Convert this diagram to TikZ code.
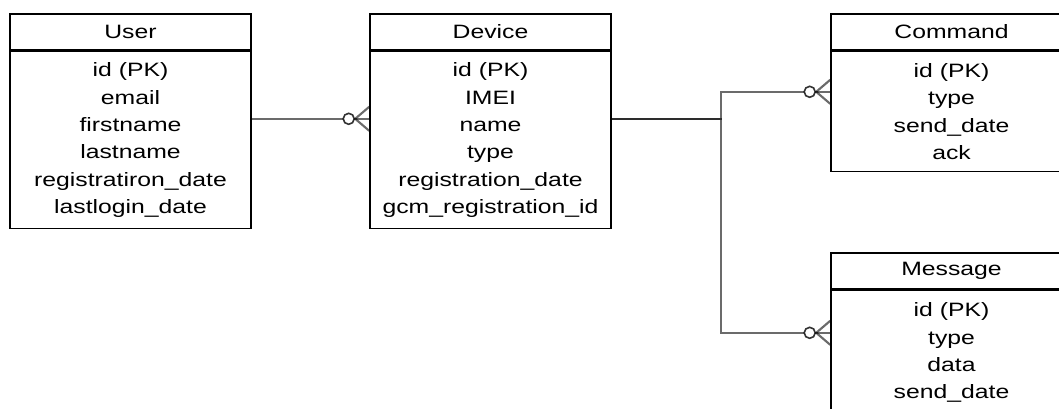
\documentclass[tikz,border=0pt]{standalone}
\usepackage{fontspec}
\setmainfont{Liberation Sans}[FakeStretch=1.28]
\usetikzlibrary{calc,positioning}
\tikzset{
    entity/.style = {
        draw,
        line width=1.2pt,
        minimum width=180.75pt,
        inner sep=0pt,
        font=\fontsize{14.5pt}{20.5pt}\selectfont,
        },
    entity head/.style = {
        entity,
        minimum height=27pt,
        },
    entity body/.style = {
        entity,
        align=center,
        },
    relation/.style = {
        draw=black,
        draw opacity=0.58,
        line width=1.6pt,
        },
    zero many/.pic = {
        \draw[relation] (-14,0) -- (0,-12);
        \draw[relation] (-14,0) -- (0,12);
        \draw[relation, draw opacity=0.8, line width=1.2pt, fill=white] (-20.5,0) circle[radius=5.5];
        },
}
\begin{document}
\begin{tikzpicture}[x=0.75pt,y=-0.75pt]
            \clip (0,0) rectangle (1059,408);

            \node[entity head] (user) at (130.5,32) {User};
            \node[entity body, minimum height=132.75pt, below=0pt of user] (user attrs)
                {id (PK)\\email\\firstname\\lastname\\registratiron\_date\\lastlogin\_date};
            \node[entity head] (device) at (490.5,32) {Device};
            \node[entity body, minimum height=132.75pt, below=0pt of device] (device attrs)
                {id (PK)\\IMEI\\name\\type\\registration\_date\\gcm\_registration\_id};
            \node[entity head] (command) at (951.5,32) {Command};
            \node[entity body, minimum height=90pt, below=0pt of command] (command attrs)
                {id (PK)\\type\\send\_date\\ack};
            \node[entity head] (message) at (951.5,271) {Message};
            \node[entity body, minimum height=93pt, below=0pt of message] (message attrs)
                {id (PK)\\type\\data\\send\_date};

            % user - device
            \draw[relation] ($(user attrs.north east)+(0,68)$) -- ($(device attrs.north west)+(0,68)$);
            \pic at ($(device attrs.north west)+(0,68)$) {zero many};
            % device - command
            \draw[relation] ($(device attrs.north east)+(0,68)$) -- ++(109,0) |- ($(command attrs.north west)+(0,41)$);
            \pic at ($(command attrs.north west)+(0,41)$) {zero many};
            % device - message
            \draw[relation] ($(device attrs.north east)+(0,68)$) -- ++(109,0) |- ($(message attrs.north west)+(0,43)$);
            \pic at ($(message attrs.north west)+(0,43)$) {zero many};
        \end{tikzpicture}
\end{document}
